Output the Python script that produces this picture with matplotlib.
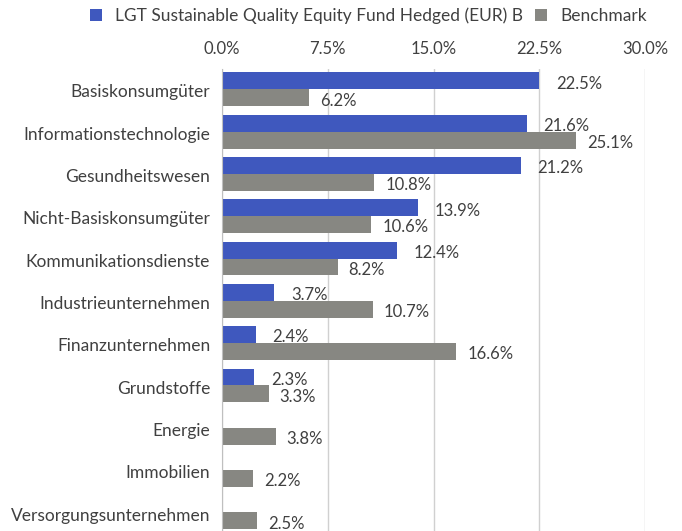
import matplotlib
matplotlib.use("Agg")
import matplotlib.pyplot as plt
import matplotlib.transforms as mtransforms
import numpy as np

categories = ["Basiskonsumgüter", "Informationstechnologie", "Gesundheitswesen",
              "Nicht-Basiskonsumgüter", "Kommunikationsdienste", "Industrieunternehmen",
              "Finanzunternehmen", "Grundstoffe", "Energie", "Immobilien",
              "Versorgungsunternehmen"]
fund = [22.5, 21.6, 21.2, 13.9, 12.4, 3.7, 2.4, 2.3, None, None, None]
bench = [6.2, 25.1, 10.8, 10.6, 8.2, 10.7, 16.6, 3.3, 3.8, 2.2, 2.5]
ticks = [0, 7.5, 15, 22.5, 30]
fund_name = "LGT Sustainable Quality Equity Fund Hedged (EUR) B"
bench_name = "Benchmark"

plt.rcParams['font.family'] = ['Lato', 'DejaVu Sans']
txt = '#404040'
blue = '#3F58BE'
gray = '#878782'
fs_text = 12.5
fs_num = 12

fig = plt.figure(figsize=(6.82, 5.31), dpi=100)
ax = fig.add_axes([222/682, 0, (645-222)/682, 1 - 69/531])

y = np.arange(len(categories))
h = 0.4
fv = [v if v is not None else 0 for v in fund]
fb = ax.barh(y - h/2, fv, height=h, color=blue, label=fund_name)
bb = ax.barh(y + h/2, bench, height=h, color=gray, label=bench_name)
for b, v in zip(fb, fund):
    if v is None:
        b.set_visible(False)

for i, v in enumerate(fund):
    if v is not None:
        ax.annotate(f"{v:.1f}%", (v, i - h/2), xytext=(12, -2), textcoords='offset points',
                    va='center', ha='left', fontsize=fs_num, color=txt)
for i, v in enumerate(bench):
    ax.annotate(f"{v:.1f}%", (v, i + h/2), xytext=(8, -2), textcoords='offset points',
                va='center', ha='left', fontsize=fs_num, color=txt)

ax.set_xlim(0, 30)
ax.set_ylim(len(categories) - 1 + 0.44, -0.48)
ax.set_xticks(ticks)
ax.set_xticklabels([f"{t:.1f}%" for t in ticks], fontsize=fs_num, color=txt)
ax.xaxis.tick_top()
ax.tick_params(axis='x', length=0, pad=8.5)
ax.set_yticks(y)
ax.set_yticklabels(categories, fontsize=fs_text, color=txt)
ax.tick_params(axis='y', length=0, pad=8.5)
off = mtransforms.ScaledTranslation(0, -1.2/72, fig.dpi_scale_trans)
for lab in ax.get_yticklabels():
    lab.set_transform(lab.get_transform() + off)
ax.grid(axis='x', color='#D0D0D0', linewidth=1)
ax.set_axisbelow(True)
for s in ['top', 'right', 'bottom']:
    ax.spines[s].set_visible(False)
ax.spines['left'].set_color('#BFBFBF')

fig.legend(handles=[fb, bb], labels=[fund_name, bench_name], loc='center',
           bbox_to_anchor=(0.54, 1 - 16/531), ncol=2, frameon=False, fontsize=fs_text,
           handlelength=0.7, handleheight=0.7, columnspacing=0.7, handletextpad=0.75,
           labelcolor=txt)

fig.savefig("out.png", dpi=100)
